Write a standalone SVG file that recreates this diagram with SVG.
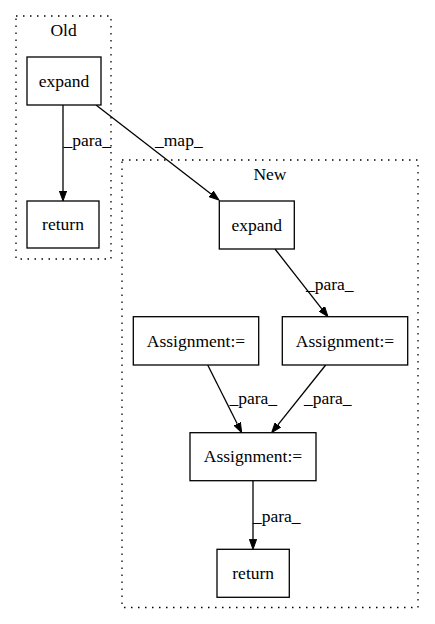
<svg xmlns="http://www.w3.org/2000/svg" width="435" height="624" viewBox="0 0 435 624">
<style>
text{font-family:"Liberation Serif","Times New Roman",serif;font-size:17.5px;fill:#000}
.c{fill:none;stroke:#000;stroke-width:1.3;stroke-dasharray:1.5,5.5}
.n rect{fill:#fff;stroke:#000;stroke-width:1.3}
.n text{text-anchor:middle}
.e line{stroke:#000;stroke-width:1.3}
</style>
<defs>
<marker id="a" markerUnits="userSpaceOnUse" markerWidth="11" markerHeight="8" viewBox="0 -4 11 8" refX="0" refY="0" orient="auto">
<path d="M0,-3.6 L10,0 L0,3.6 z" fill="#000" stroke="#000" stroke-width="1"/>
</marker>
</defs>
<rect width="435" height="624" fill="#fff"/>
<g id="cluster_old">
<rect class="c" x="16" y="16" width="95" height="243"/>
<text x="63.5" y="36" text-anchor="middle">Old</text>
</g>
<g id="cluster_new">
<rect class="c" x="122" y="160" width="296" height="447.5"/>
<text x="270" y="180" text-anchor="middle">New</text>
</g>
<g id="edges" class="e">
<line x1="63" y1="105" x2="63" y2="191" marker-end="url(#a)"/>
<line x1="96" y1="105" x2="211.1" y2="193.9" marker-end="url(#a)"/>
<line x1="275" y1="249" x2="321.8" y2="308.8" marker-end="url(#a)"/>
<line x1="207.7" y1="365" x2="237.2" y2="423.8" marker-end="url(#a)"/>
<line x1="325.7" y1="365" x2="277.9" y2="424.9" marker-end="url(#a)"/>
<line x1="253" y1="480.7" x2="253" y2="539.3" marker-end="url(#a)"/>
<text x="63.5" y="146">_para_</text>
<text x="155" y="146">_map_</text>
<text x="306" y="290">_para_</text>
<text x="229.5" y="404">_para_</text>
<text x="304" y="404">_para_</text>
<text x="253" y="521.5">_para_</text>
</g>
<g id="old_expand" class="n"><rect x="27" y="57" width="74" height="48"/><text x="64" y="86.5">expand</text></g>
<g id="old_return" class="n"><rect x="27" y="201" width="72" height="47"/><text x="63" y="230">return</text></g>
<g id="new_expand" class="n"><rect x="219.3" y="201" width="75" height="48"/><text x="256.8" y="230.5">expand</text></g>
<g id="assign_left" class="n"><rect x="133.3" y="316.7" width="125.4" height="48.3"/><text x="196" y="346.5">Assignment:=</text></g>
<g id="assign_right" class="n"><rect x="282.3" y="316.7" width="125.4" height="48.3"/><text x="345" y="346.5">Assignment:=</text></g>
<g id="assign_center" class="n"><rect x="190" y="432.7" width="126" height="48"/><text x="253" y="462.3">Assignment:=</text></g>
<g id="new_return" class="n"><rect x="217" y="549.3" width="72.3" height="48"/><text x="253.2" y="578.8">return</text></g>
</svg>
